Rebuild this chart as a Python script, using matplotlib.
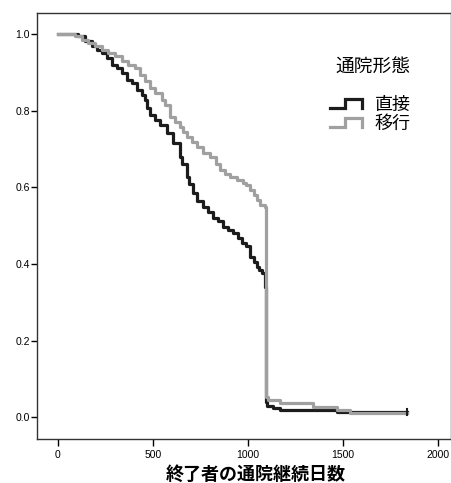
import matplotlib
matplotlib.use("Agg")
import matplotlib.pyplot as plt
from matplotlib.lines import Line2D
from matplotlib.legend_handler import HandlerBase

plt.rcParams['font.family'] = ['Noto Sans CJK JP', 'DejaVu Sans']

# 直接 (direct)
direct_days = [0, 63, 105, 142, 179, 205, 232, 258, 284, 311, 337, 363, 389,
               416, 442, 458, 468, 484, 511, 537, 574, 605, 642, 655, 679,
               690, 711, 730, 763, 790, 816, 840, 868, 895, 921, 945, 968,
               990, 1011, 1030, 1047, 1060, 1074, 1089, 1092, 1100, 1132,
               1168, 1468, 1837]
direct_surv = [1.0, 1.0, 0.995, 0.982, 0.969, 0.958, 0.950, 0.937, 0.919,
               0.911, 0.898, 0.880, 0.872, 0.854, 0.841, 0.828, 0.807, 0.789,
               0.775, 0.762, 0.742, 0.715, 0.679, 0.660, 0.627, 0.610, 0.585,
               0.565, 0.548, 0.535, 0.520, 0.512, 0.496, 0.488, 0.480, 0.468,
               0.454, 0.446, 0.418, 0.405, 0.392, 0.385, 0.376, 0.339, 0.040,
               0.030, 0.023, 0.018, 0.013, 0.013]

# 移行 (transfer)
trans_days = [0, 89, 126, 158, 195, 232, 263, 300, 337, 368, 405, 432, 458,
              484, 511, 547, 563, 589, 615, 642, 660, 679, 705, 732, 765,
              800, 830, 853, 880, 905, 940, 974, 990, 1011, 1030, 1047, 1065,
              1089, 1095, 1105, 1168, 1342, 1468, 1537, 1837]
trans_surv = [1.0, 0.995, 0.984, 0.977, 0.969, 0.958, 0.950, 0.943, 0.930,
              0.919, 0.911, 0.893, 0.877, 0.859, 0.846, 0.828, 0.815, 0.783,
              0.770, 0.757, 0.745, 0.731, 0.718, 0.705, 0.690, 0.679, 0.660,
              0.645, 0.635, 0.627, 0.620, 0.611, 0.605, 0.593, 0.580, 0.567,
              0.555, 0.548, 0.052, 0.045, 0.037, 0.026, 0.018, 0.010, 0.010]

labels = ['直接', '移行']
colors = ['#1c1c1c', '#a0a0a0']


class StepHandler(HandlerBase):
    def create_artists(self, legend, orig_handle, xdescent, ydescent,
                       width, height, fontsize, trans):
        xs = [0.0, 0.45, 0.45, 0.95, 0.95]
        ys = [0.15, 0.15, 0.85, 0.85, 0.1]
        ln = Line2D([x * width - xdescent for x in xs],
                    [y * height - ydescent for y in ys],
                    color=orig_handle.get_color(),
                    lw=orig_handle.get_linewidth(),
                    solid_joinstyle='miter')
        ln.set_transform(trans)
        return [ln]


fig = plt.figure(figsize=(4.52, 4.83), dpi=100)
ax = fig.add_axes([0.082, 0.091, 0.916, 0.882])

h1, = ax.plot(direct_days, direct_surv, drawstyle='steps-post',
              color=colors[0], lw=2.3)
h2, = ax.plot(trans_days, trans_surv, drawstyle='steps-post',
              color=colors[1], lw=2.3)
ax.plot([direct_days[-1]] * 2, [direct_surv[-1] - 0.008, direct_surv[-1] + 0.008],
        color=colors[0], lw=1.5)

ax.set_xlim(-110, 2068)
ax.set_ylim(-0.057, 1.055)
ax.set_xticks([0, 500, 1000, 1500, 2000])
ax.set_yticks([0.0, 0.2, 0.4, 0.6, 0.8, 1.0])
ax.set_yticklabels(['0.0', '0.2', '0.4', '0.6', '0.8', '1.0'])
for lab in ax.get_xticklabels() + ax.get_yticklabels():
    lab.set_family(['Liberation Sans', 'DejaVu Sans'])
    lab.set_fontsize(7.5)
ax.tick_params(axis='y', length=4, width=1, pad=1)
ax.tick_params(axis='x', length=5, width=1, pad=3)
for sp in ax.spines.values():
    sp.set_linewidth(1.0)
    sp.set_color('#333333')

fig.text(0.566, 0.018, '終了者の通院継続日数', fontsize=13, fontweight='bold',
         ha='center', va='center')

fig.text(373 / 452, 1 - 67 / 483, '通院形態', fontsize=13.5, ha='center', va='center')
leg = ax.legend([h1, h2], labels, handler_map={Line2D: StepHandler()},
                frameon=False, fontsize=13,
                loc='center', bbox_to_anchor=(0.805, 0.763),
                handlelength=1.9, handletextpad=0.6, labelspacing=0.05,
                borderpad=0)

fig.savefig('out.png', dpi=100)
